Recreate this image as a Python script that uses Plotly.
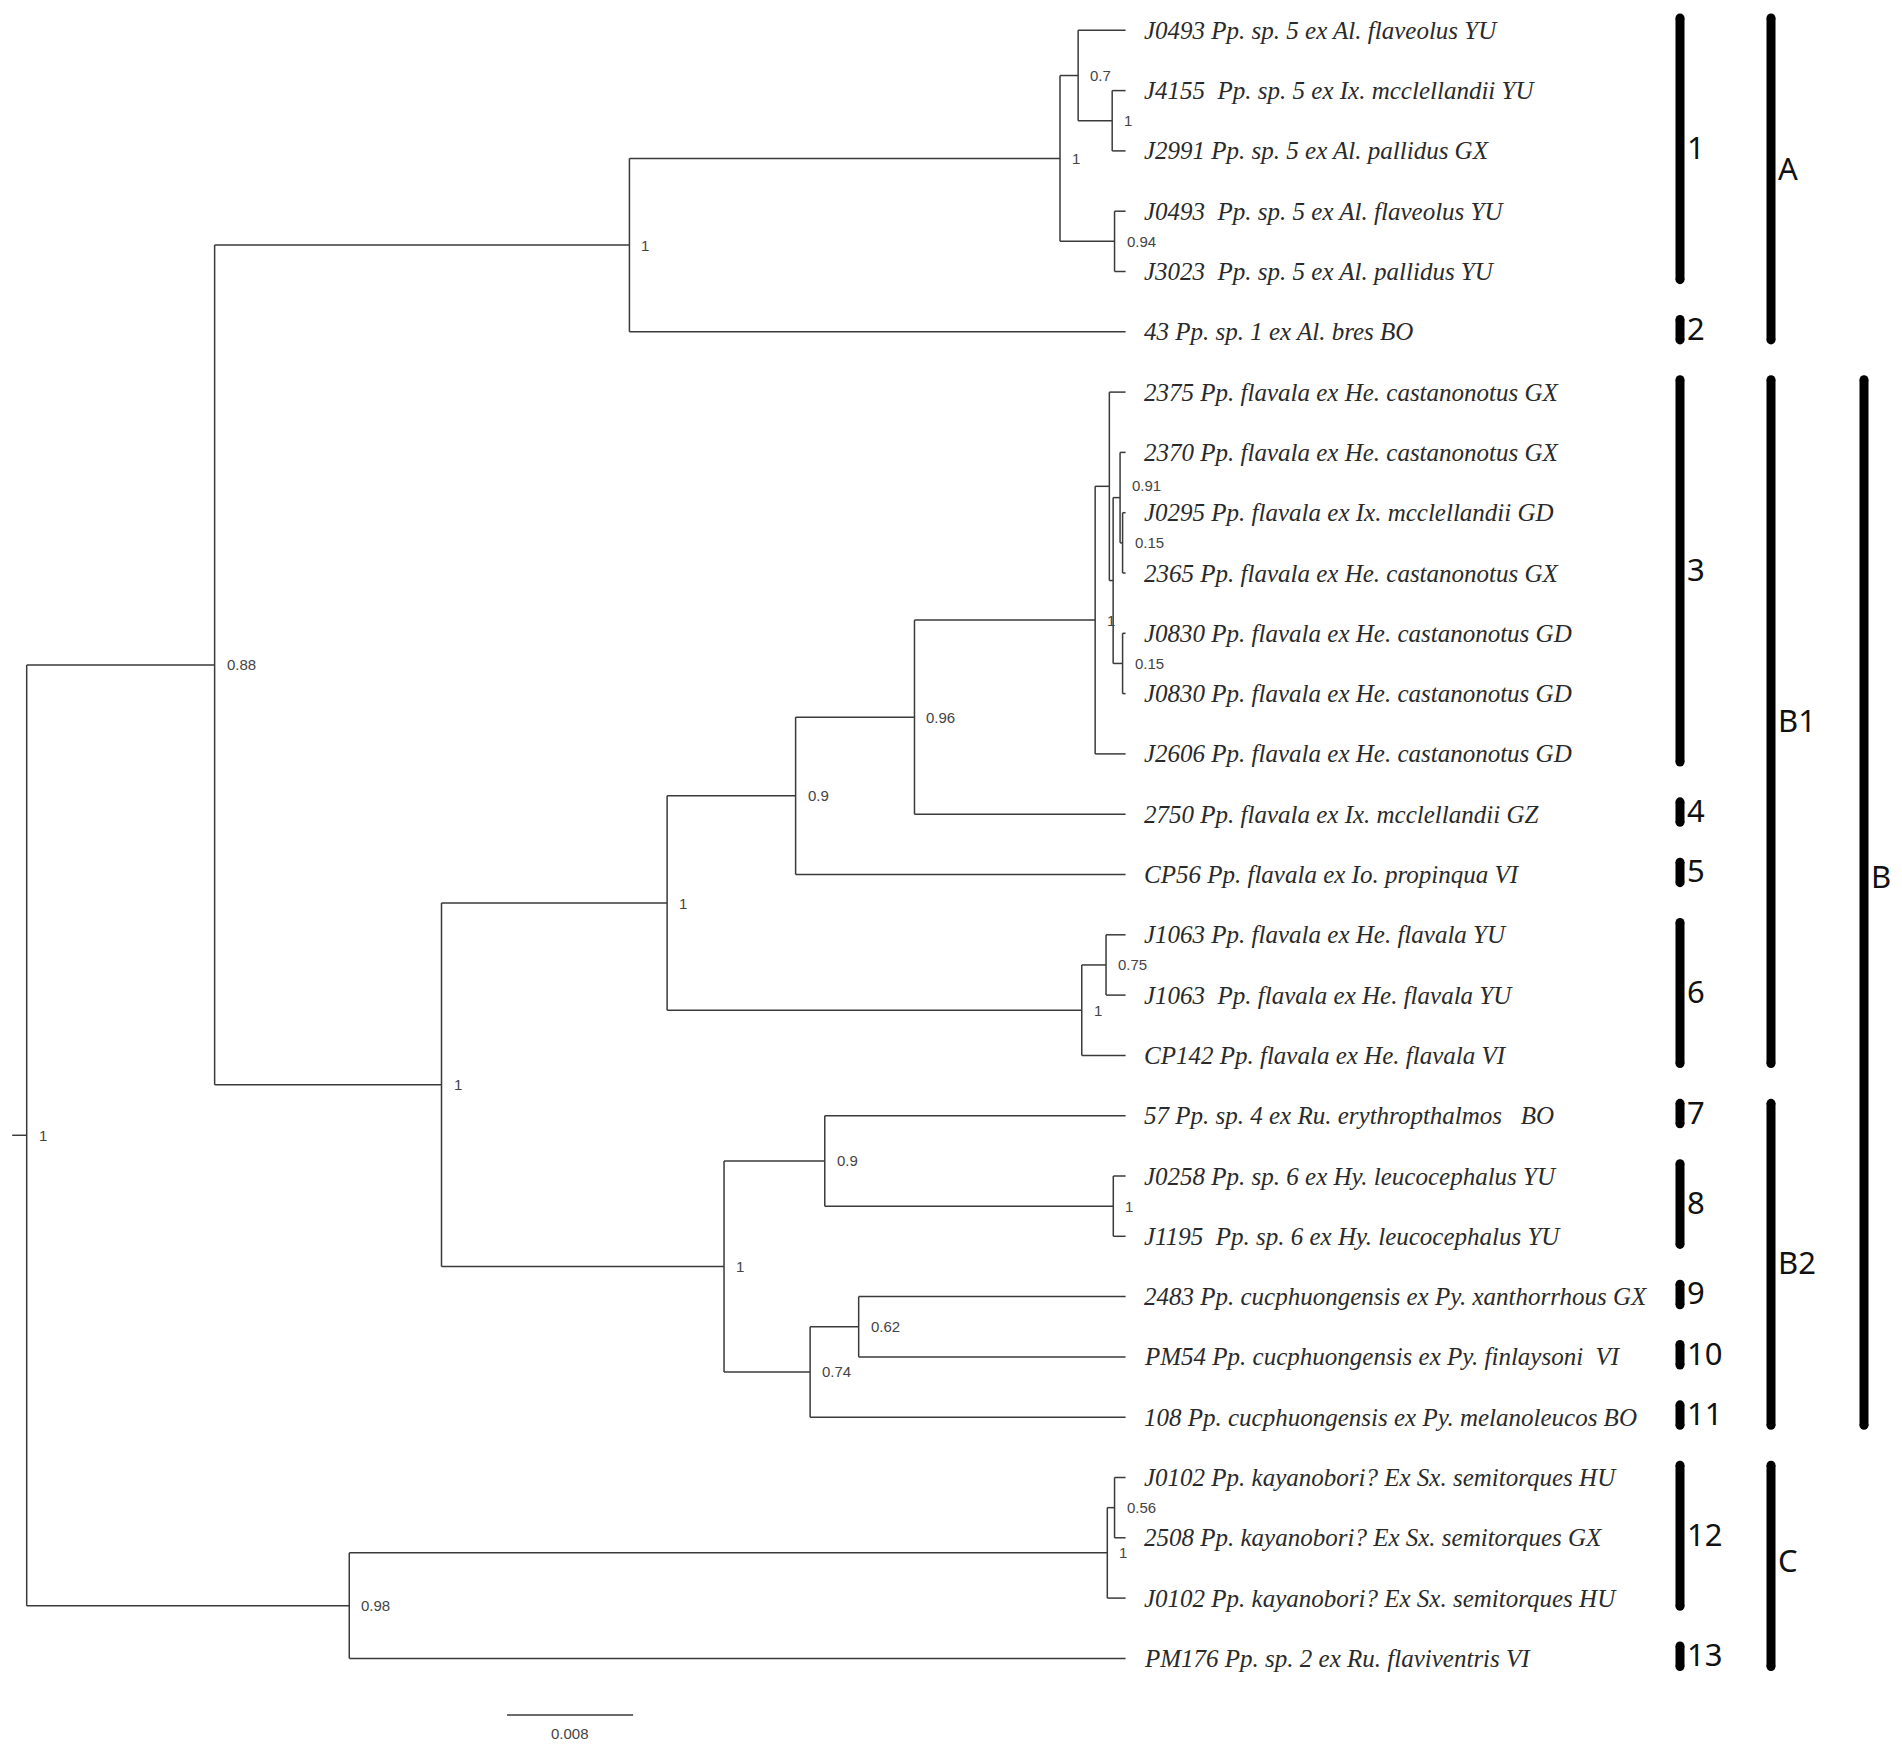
import plotly.graph_objects as go

W, H = 1902, 1760
OFF = 8  # default page body margin
NB = "\u00a0"

# ---------------- data ----------------
leaf_labels = [
    "J0493 Pp. sp. 5 ex Al. flaveolus YU",
    "J4155" + NB + " Pp. sp. 5 ex Ix. mcclellandii YU",
    "J2991 Pp. sp. 5 ex Al. pallidus GX",
    "J0493" + NB + " Pp. sp. 5 ex Al. flaveolus YU",
    "J3023" + NB + " Pp. sp. 5 ex Al. pallidus YU",
    "43 Pp. sp. 1 ex Al. bres BO",
    "2375 Pp. flavala ex He. castanonotus GX",
    "2370 Pp. flavala ex He. castanonotus GX",
    "J0295 Pp. flavala ex Ix. mcclellandii GD",
    "2365 Pp. flavala ex He. castanonotus GX",
    "J0830 Pp. flavala ex He. castanonotus GD",
    "J0830 Pp. flavala ex He. castanonotus GD",
    "J2606 Pp. flavala ex He. castanonotus GD",
    "2750 Pp. flavala ex Ix. mcclellandii GZ",
    "CP56 Pp. flavala ex Io. propinqua VI",
    "J1063 Pp. flavala ex He. flavala YU",
    "J1063" + NB + " Pp. flavala ex He. flavala YU",
    "CP142 Pp. flavala ex He. flavala VI",
    "57 Pp. sp. 4 ex Ru. erythropthalmos" + NB + NB + " BO",
    "J0258 Pp. sp. 6 ex Hy. leucocephalus YU",
    "J1195" + NB + " Pp. sp. 6 ex Hy. leucocephalus YU",
    "2483 Pp. cucphuongensis ex Py. xanthorrhous GX",
    "PM54 Pp. cucphuongensis ex Py. finlaysoni" + NB + " VI",
    "108 Pp. cucphuongensis ex Py. melanoleucos BO",
    "J0102 Pp. kayanobori? Ex Sx. semitorques HU",
    "2508 Pp. kayanobori? Ex Sx. semitorques GX",
    "J0102 Pp. kayanobori? Ex Sx. semitorques HU",
    "PM176 Pp. sp. 2 ex Ru. flaviventris VI",
]
tip_depth = 0.0697

# internal nodes: children are node ids (str) or leaf indices (int)
node_ids = ["root", "n088", "nA", "nC1", "n07", "nJ4155", "n094",
            "nB", "nB1", "n09", "n096", "nC3", "nC3a", "nC3b", "n091",
            "n015a", "n015b", "nC6", "n075", "nB2", "n09b", "nJ0258",
            "n074", "n062", "nCC", "nC12", "n056"]
node_children = [
    ["n088", "nCC"], ["nA", "nB"], ["nC1", 5], ["n07", "n094"], [0, "nJ4155"],
    [1, 2], [3, 4],
    ["nB1", "nB2"], ["n09", "nC6"], ["n096", 14], ["nC3", 13], ["nC3a", 12],
    [6, "nC3b"], ["n091", "n015b"], [7, "n015a"],
    [8, 9], [10, 11], ["n075", 17], [15, 16], ["n09b", "n074"], [18, "nJ0258"], [19, 20],
    ["n062", 23], [21, 22], ["nC12", 27], ["n056", 26], [24, 25],
]
node_depths = [0.0, 0.01192, 0.03823, 0.06554, 0.06669, 0.06885, 0.06900,
               0.02631, 0.04062, 0.04877, 0.05631, 0.06777, 0.06867, 0.06891, 0.06935,
               0.06951, 0.06951, 0.06692, 0.06846, 0.04423, 0.05062, 0.06892,
               0.04969, 0.05277, 0.02046, 0.06854, 0.06900]
node_support = ["1", "0.88", "1", "1", "0.7", "1", "0.94",
                "1", "1", "0.9", "0.96", "1", "", "", "0.91",
                "0.15", "0.15", "1", "0.75", "1", "0.9", "1",
                "0.74", "0.62", "0.98", "1", "0.56"]
root_stub = 0.00092

group_names = ["1", "2", "3", "4", "5", "6", "7", "8", "9", "10", "11", "12", "13"]
group_first = [0, 5, 6, 13, 14, 15, 18, 19, 21, 22, 23, 24, 27]
group_last = [4, 5, 12, 13, 14, 17, 18, 20, 21, 22, 23, 26, 27]
clade_names = ["A", "B1", "B2", "C"]
clade_first = [0, 6, 18, 24]
clade_last = [5, 17, 23, 27]
major_names = ["B"]
major_first = [6]
major_last = [23]

scale_bar_length = 0.008
scale_bar_label = "0.008"

# ---------------- layout geometry (page pixels) ----------------
ROOT_PX = 26.7
PX_PER_UNIT = 15766.0
Y0_PX = 30.3
DY_PX = 60.3


def px2x(px):
    return (px - ROOT_PX) / PX_PER_UNIT


def px2y(py):
    return (py - Y0_PX) / DY_PX


depth_of = dict(zip(node_ids, node_depths))
children_of = dict(zip(node_ids, node_children))
support_of = dict(zip(node_ids, node_support))
ycache = {}


def ypos(n):
    if isinstance(n, int):
        return float(n)
    if n not in ycache:
        ch = children_of[n]
        ycache[n] = 0.5 * (ypos(ch[0]) + ypos(ch[-1]))
    return ycache[n]


def xpos(n):
    return tip_depth if isinstance(n, int) else depth_of[n]


xs, ys = [], []
for n in node_ids:
    ch = children_of[n]
    x = depth_of[n]
    xs += [x, x, None]
    ys += [ypos(ch[0]), ypos(ch[-1]), None]
    for c in ch:
        xs += [x, xpos(c), None]
        ys += [ypos(c), ypos(c), None]
xs += [-root_stub, 0.0, None]
ys += [ypos("root"), ypos("root"), None]

LINE_COL = "#3a3a3a"
fig = go.Figure()
fig.add_trace(go.Scatter(x=xs, y=ys, mode="lines",
                         line=dict(color=LINE_COL, width=1.5),
                         hoverinfo="skip", showlegend=False))

annotations = []
# leaf labels
for i, lab in enumerate(leaf_labels):
    annotations.append(dict(x=tip_depth, y=i, text=lab, showarrow=False,
                            xanchor="left", yanchor="middle", xshift=16,
                            font=dict(family="Liberation Serif", size=25,
                                      color="#2a2a2a", style="italic")))
# support values
label_lift = {"n091": 12}
for n in node_ids:
    s = support_of[n]
    if not s:
        continue
    annotations.append(dict(x=depth_of[n], y=ypos(n), text=s, showarrow=False,
                            xanchor="left", yanchor="middle", xshift=10,
                            yshift=label_lift.get(n, 0),
                            font=dict(family="Liberation Sans", size=15,
                                      color="#444444")))

# group bars
BAR_W = 9
TOP_EXT = 0.205
BOT_EXT = 0.135
bar_label_lift = {"A": 9, "B": 25, "C": 4}
bx, by, mx, my = [], [], [], []


def add_bars(names, firsts, lasts, col_px):
    x = px2x(col_px)
    for nm, f, l in zip(names, firsts, lasts):
        y1, y2 = f - TOP_EXT, l + BOT_EXT
        bx.extend([x, x, None])
        by.extend([y1, y2, None])
        mx.extend([x, x])
        my.extend([y1, y2])
        annotations.append(dict(x=x, y=0.5 * (y1 + y2), text=nm, showarrow=False,
                                xanchor="left", yanchor="middle", xshift=5,
                                yshift=2 + bar_label_lift.get(nm, 0),
                                font=dict(family="Noto Sans", size=31, color="#111111")))


add_bars(group_names, group_first, group_last, 1680)
add_bars(clade_names, clade_first, clade_last, 1771)
add_bars(major_names, major_first, major_last, 1864)

fig.add_trace(go.Scatter(x=bx, y=by, mode="lines",
                         line=dict(color="black", width=BAR_W),
                         hoverinfo="skip", showlegend=False))
fig.add_trace(go.Scatter(x=mx, y=my, mode="markers",
                         marker=dict(color="black", size=BAR_W, line=dict(width=0)),
                         hoverinfo="skip", showlegend=False))

# scale bar
sb_x0 = px2x(507)
sb_y = px2y(1715)
fig.add_trace(go.Scatter(x=[sb_x0, sb_x0 + scale_bar_length], y=[sb_y, sb_y], mode="lines",
                         line=dict(color=LINE_COL, width=1.5),
                         hoverinfo="skip", showlegend=False))
annotations.append(dict(x=sb_x0 + scale_bar_length / 2, y=sb_y, text=scale_bar_label,
                        showarrow=False, xanchor="center", yanchor="top", yshift=-8,
                        font=dict(family="Liberation Sans", size=15, color="#444444")))

fig.update_layout(
    width=W - OFF, height=H - OFF,
    margin=dict(l=0, r=0, t=0, b=0),
    paper_bgcolor="white", plot_bgcolor="white",
    xaxis=dict(range=[px2x(OFF), px2x(W)], visible=False, fixedrange=True),
    yaxis=dict(range=[px2y(H), px2y(OFF)], visible=False, fixedrange=True),
    annotations=annotations,
    showlegend=False,
)

fig.write_html("out.html")
